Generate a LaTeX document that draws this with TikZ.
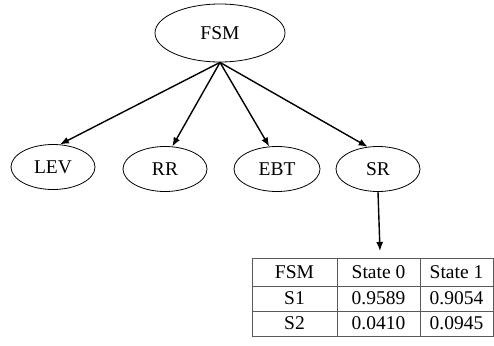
\documentclass[tikz,border=0pt]{standalone}
\usepackage{fontspec}
\setmainfont{Liberation Serif}
\usetikzlibrary{shapes.geometric,arrows.meta}

\begin{document}
\begin{tikzpicture}[x=1pt,y=-1pt,
  font=\fontsize{19.5}{22}\selectfont,
  oval/.style={ellipse, draw, line width=0.8pt, minimum width=84pt, minimum height=45pt, inner sep=0pt},
  arr/.style={-{Latex[length=9pt,width=7pt]}, line width=1.4pt},
  cell/.style={inner sep=0pt}]

\useasboundingbox (0,0) rectangle (494,345);

\node[oval, minimum width=130pt, minimum height=58pt] (FSM) at (220,33) {FSM};

\node[oval] (LEV) at (53,167) {LEV};
\node[oval] (RR) at (165,169) {RR};
\node[oval, minimum width=86pt] (EBT) at (277,169) {EBT};
\node[oval] (SR) at (378,169) {SR};

\foreach \n/\a in {LEV/73,RR/72,EBT/109,SR/115}
\draw[arr] (FSM.south) -- (\n.\a);

\coordinate (tbltop) at (380,251);
\draw[arr] (SR.south) -- (tbltop);

% table
\draw[gray!70!black, line width=0.6pt] (252,258) rectangle (493,336);
\foreach \y in {286,311}
\draw[gray!70!black, line width=0.6pt] (252,\y) -- (493,\y);
\foreach \x in {337,420}
\draw[gray!70!black, line width=0.6pt] (\x,258) -- (\x,336);

\foreach \r/\y/\a/\b/\c in {0/272/FSM/State 0/State 1,1/298.5/S1/0.9589/0.9054,2/323.5/S2/0.0410/0.0945}{
\node[cell] (a\r) at (294.5,\y) {\a};
\node[cell] (b\r) at (378.5,\y) {\b};
\node[cell] (c\r) at (456.5,\y) {\c};
}

\end{tikzpicture}
\end{document}
